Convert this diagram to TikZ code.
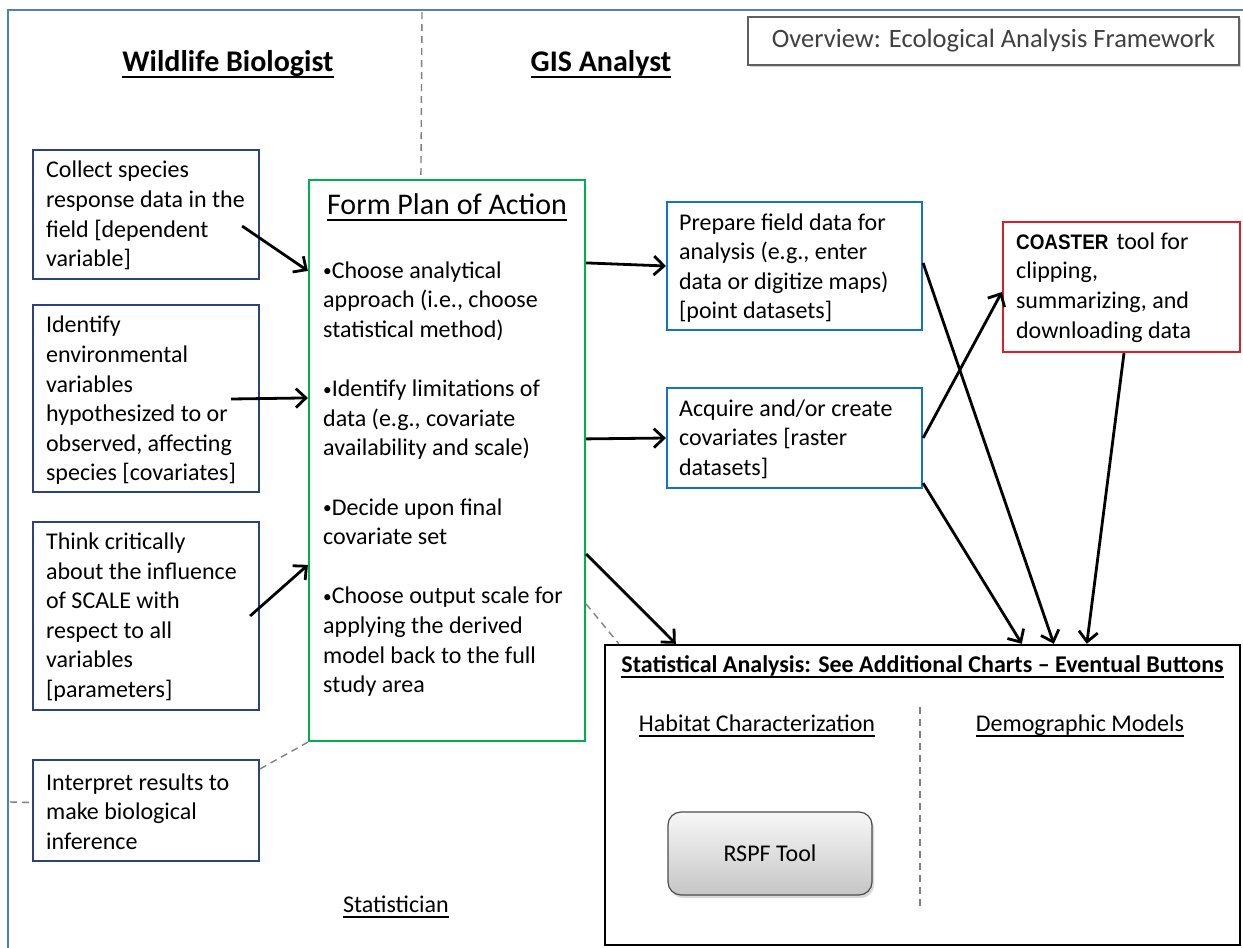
\documentclass[tikz,border=0pt]{standalone}
\usepackage{fontspec}
\usepackage{graphicx}
\setmainfont{Carlito}
\newfontfamily\coasterfont{Liberation Sans}[FakeStretch=0.9]
\usetikzlibrary{arrows.meta,shadows,calc}

\definecolor{frameblue}{RGB}{79,129,189}
\definecolor{navybox}{RGB}{44,66,125}
\definecolor{plangreen}{RGB}{0,176,80}
\definecolor{gisblue}{RGB}{20,115,200}
\definecolor{coasterred}{RGB}{220,30,40}
\definecolor{dashgray}{RGB}{128,128,128}
\definecolor{titlegray}{RGB}{64,64,64}

\newcommand{\boxfont}{\fontsize{24}{29.6}\selectfont}
\newcommand{\headfont}{\fontsize{30}{34}\selectfont\bfseries}
% small bullet set tight against the text
\newcommand{\smallbullet}{\raisebox{1.5pt}{\scalebox{0.72}{\textbullet}}}
% underlined text: a rule of the text's width below the baseline
\newsavebox{\ulinebox}
\newcommand{\undertext}[2][-4pt]{\leavevmode\sbox{\ulinebox}{#2}%
  \rlap{\rule[#1]{\wd\ulinebox}{1.5pt}}\usebox{\ulinebox}}

\tikzset{
  biobox/.style={draw=navybox, line width=2.2pt, fill=white},
  gisbox/.style={draw=gisblue, line width=2.2pt, fill=white},
  boxtext/.style={anchor=west, align=left, inner sep=0pt, font=\boxfont},
  flow/.style={line width=2.8pt, black, -{Straight Barb[length=10pt,width=19pt]}},
  guide/.style={draw=dashgray, line width=1.4pt, dash pattern=on 7pt off 5pt},
  header/.style={font=\headfont, inner sep=0pt},
  sublabel/.style={font=\fontsize{24}{28}\selectfont, inner sep=0pt},
}

\begin{document}
\begin{tikzpicture}[x=1pt,y=-1pt]
\useasboundingbox (0,0) rectangle (1243,948);

% outer frame
\coordinate (frameTR) at (1243,10);
\coordinate (frameTL) at (8,10);
\coordinate (frameBL) at (8,948);
\draw[frameblue, line width=2pt] (frameTR) -- (frameTL) -- (frameBL);

% title
\node[draw=gray!75!black, line width=1.4pt, fill=white, minimum width=491, minimum height=48,
      drop shadow={shadow xshift=2pt, shadow yshift=-2pt, opacity=0.35},
      text=titlegray, font=\fontsize{26.5}{30}\selectfont] (title) at (993.5,41) {Overview: Ecological Analysis Framework};

% role headings
\node[header] (biologist) at (228,64) {\undertext[-6.5pt]{Wildlife Biologist}};
\node[header] (analyst) at (601,64) {\undertext[-6.5pt]{GIS Analyst}};
\node[sublabel] (statistician) at (396,907) {\undertext[-5pt]{Statistician}};

% biologist tasks
\node[biobox, minimum width=226, minimum height=129] (collect) at (146,214.5) {};
\node[boxtext] (collectT) at ([xshift=14pt,yshift=-1pt]collect.west)
  {Collect species\\response data in the\\field [dependent\\variable]};

\node[biobox, minimum width=226, minimum height=187] (identify) at (146,398.5) {};
\node[boxtext] (identifyT) at ([xshift=14pt,yshift=-2pt]identify.west)
  {Identify\\environmental\\variables\\hypothesized to or\\observed, affecting\\species [covariates]};

\node[biobox, minimum width=226, minimum height=188] (think) at (146,616) {};
\node[boxtext] (thinkT) at ([xshift=14pt,yshift=-1pt]think.west)
  {Think critically\\about the influence\\of SCALE with\\respect to all\\variables\\{[parameters]}};

\node[biobox, minimum width=226, minimum height=101] (interpret) at (146,810.5) {};
\node[boxtext] (interpretT) at ([xshift=14pt,yshift=-1pt]interpret.west)
  {Interpret results to\\make biological\\inference};

% plan of action
\node[draw=plangreen, line width=2.2pt, fill=white, minimum width=276, minimum height=561] (plan) at (447,460.5) {};
\node[inner sep=0pt, font=\fontsize{30}{34}\selectfont] (planTitle) at (447,207) {\undertext[-6.5pt]{Form Plan of Action}};
\node[boxtext] (planT) at (323,479)
  {\smallbullet Choose analytical\\approach (i.e., choose\\statistical method)\\[29.6pt]
   \smallbullet Identify limitations of\\data (e.g., covariate\\availability and scale)\\[29.6pt]
   \smallbullet Decide upon final\\covariate set\\[29.6pt]
   \smallbullet Choose output scale for\\applying the derived\\model back to the full\\study area};

% GIS tasks
\node[gisbox, minimum width=255, minimum height=128] (prepare) at (794.5,266) {};
\node[boxtext] (prepareT) at ([xshift=13pt,yshift=-2pt]prepare.west)
  {Prepare field data for\\analysis (e.g., enter\\data or digitize maps)\\{[point datasets]}};

\node[gisbox, minimum width=255, minimum height=100] (acquire) at (794.5,438) {};
\node[boxtext] (acquireT) at ([xshift=13pt,yshift=-1pt]acquire.west)
  {Acquire and/or create\\covariates [raster\\datasets]};

\node[draw=coasterred, line width=2.2pt, fill=white, minimum width=237, minimum height=130] (coaster) at (1121.5,287) {};
\node[boxtext] (coasterT) at ([xshift=14pt,yshift=-0.5pt]coaster.west)
  {{\coasterfont\bfseries\fontsize{21}{29.6}\selectfont COASTER}\hspace{8pt}tool for\\clipping,\\summarizing, and\\downloading data};

% statistical analysis
\node[draw=black, line width=2.4pt, fill=white, minimum width=635, minimum height=300] (stats) at (922.5,795) {};
\node[inner sep=0pt, font=\fontsize{24}{28}\selectfont\bfseries] (statsTitle) at (922.5,667)
  {\undertext[-5pt]{Statistical Analysis: See Additional Charts -- Eventual Buttons}};
\node[sublabel] (habitat) at (757,726) {\undertext[-5pt]{Habitat Characterization}};
\node[sublabel] (demographic) at (1080,726) {\undertext[-5pt]{Demographic Models}};
\draw[guide] ([shift={(316,63)}]stats.north west) -- ([shift={(316,267)}]stats.north west);
\node[draw=gray!60!black, line width=1.2pt, rounded corners=13pt, minimum width=204, minimum height=83,
      top color=gray!6, bottom color=gray!45,
      drop shadow={shadow xshift=2pt, shadow yshift=-3pt, opacity=0.3},
      font=\fontsize{24}{28}\selectfont] (rspf) at (770,853.5) {RSPF Tool};

% dashed guides
\coordinate (dividerTop) at (422,12);
\draw[guide] (dividerTop) -- ([xshift=113pt]plan.north west);
\draw[guide] ([yshift=-10pt]interpret.north east) -- (plan.south west);
\coordinate (statLead) at (10,802);
\draw[guide] (statLead) -- ([yshift=8pt]interpret.west);
\draw[guide] ([shift={(0,425)}]plan.north east) -- ([xshift=15pt]stats.north west);

% workflow arrows
\draw[flow] ([shift={(-18,11.5)}]collect.east) -- ([shift={(0,92)}]plan.north west);
\draw[flow] ([shift={(-29,0.5)}]identify.east) -- ([shift={(0,219)}]plan.north west);
\draw[flow] ([shift={(-10,0)}]think.east) -- ([shift={(0,386)}]plan.north west);
\draw[flow] ([shift={(0,84)}]plan.north east) -- (prepare.west);
\draw[flow] ([shift={(0,260)}]plan.north east) -- (acquire.west);
\draw[flow] ([shift={(0,375)}]plan.north east) -- ([xshift=72pt]stats.north west);
\draw[flow] (acquire.east) -- ([shift={(0,5)}]coaster.west);
\draw[flow] ([shift={(0,-3)}]prepare.east) -- ([xshift=450pt]stats.north west);
\draw[flow] ([shift={(0,-6)}]acquire.south east) -- ([xshift=418pt]stats.north west);
\draw[flow] ([xshift=2.5pt]coaster.south) -- ([xshift=483pt]stats.north west);
\end{tikzpicture}
\end{document}
